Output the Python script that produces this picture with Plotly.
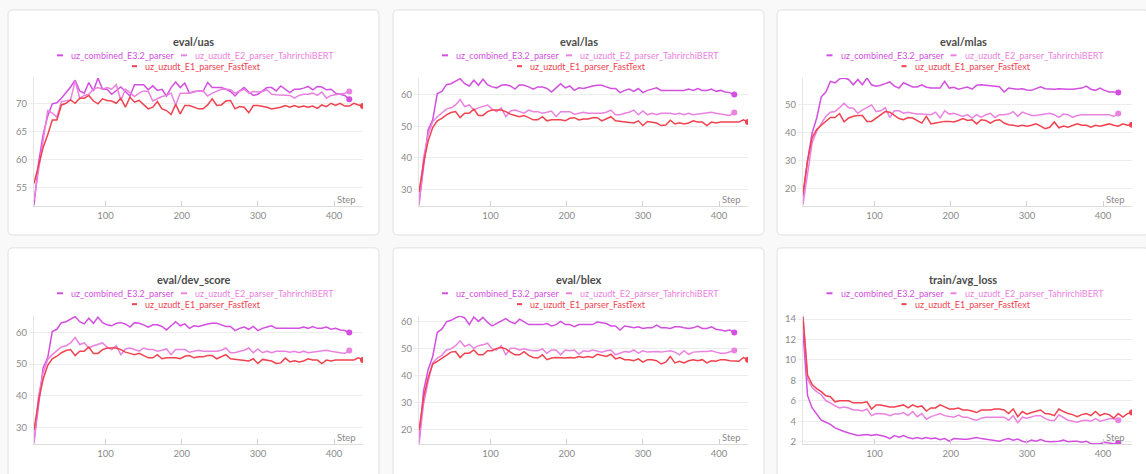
import plotly.graph_objects as go

W, H = 1146, 474

# ---------------- data ----------------
steps_e3 = list(range(6, 421, 6))   # uz_combined_E3.2_parser
steps_e2 = list(range(6, 421, 6))   # uz_uzudt_E2_parser_TahrirchiBERT
steps_e1 = list(range(6, 439, 6))   # uz_uzudt_E1_parser_FastText

uas_e3 = [51.9, 59.5, 64.5, 67.8, 70.0, 70.2, 71.0, 71.9, 73.0, 74.2,
          72.3, 71.9, 73.8, 72.3, 74.6, 72.6, 72.6, 71.7, 72.4, 73.0,
          72.2, 71.4, 73.4, 73.4, 73.4, 72.5, 73.2, 72.4, 72.6, 71.4,
          72.9, 73.9, 72.9, 73.7, 71.9, 72.2, 72.3, 72.2, 73.8, 72.9,
          72.9, 72.9, 72.6, 72.2, 71.4, 72.3, 72.9, 72.1, 71.5, 71.7,
          72.3, 72.9, 72.9, 72.3, 73.2, 72.6, 72.0, 72.6, 72.6, 72.8,
          73.1, 72.5, 73.1, 73.0, 72.5, 72.6, 71.9, 71.7, 71.5, 70.8]
uas_e2 = [52.8, 58.0, 64.0, 68.8, 68.4, 67.6, 70.4, 70.5, 70.7, 74.1,
          71.0, 71.5, 71.7, 72.6, 72.9, 72.6, 72.9, 72.6, 73.4, 70.6,
          72.6, 72.0, 71.3, 71.9, 72.3, 72.2, 70.5, 70.9, 71.3, 71.5,
          71.9, 69.8, 71.9, 71.9, 71.9, 72.1, 72.3, 72.3, 71.4, 71.9,
          72.3, 72.6, 72.6, 72.5, 71.9, 72.3, 72.6, 71.9, 72.2, 72.1,
          72.2, 72.5, 71.7, 71.6, 71.6, 71.5, 71.5, 71.0, 71.5, 71.7,
          71.7, 71.9, 71.5, 72.1, 71.0, 71.5, 71.6, 71.7, 71.9, 72.2]
uas_e1 = [55.8, 58.9, 62.2, 64.5, 67.1, 67.1, 69.8, 70.1, 70.7, 70.1,
          71.0, 71.0, 71.5, 70.5, 70.0, 70.9, 70.6, 70.5, 70.1, 71.0,
          69.4, 71.2, 70.3, 70.6, 69.8, 69.1, 69.4, 70.4, 69.1, 68.8,
          68.1, 69.9, 68.2, 69.7, 69.7, 69.4, 69.1, 69.1, 69.8, 70.9,
          69.7, 69.8, 70.5, 70.6, 69.1, 69.5, 69.4, 68.4, 69.7, 69.7,
          69.6, 69.4, 69.1, 69.2, 69.4, 69.7, 69.4, 69.7, 69.4, 69.6,
          69.4, 69.6, 69.2, 69.8, 69.5, 70.1, 69.7, 70.1, 69.6, 69.6,
          70.1, 69.8, 69.6]

las_e3 = [25.5, 38.0, 48.9, 52.0, 60.3, 61.0, 63.1, 63.4, 64.2, 65.0,
          63.4, 62.7, 64.5, 62.9, 64.8, 63.1, 62.4, 62.1, 62.9, 63.1,
          62.7, 61.7, 63.1, 62.9, 62.4, 61.7, 62.4, 62.4, 61.9, 60.8,
          62.1, 63.4, 62.1, 62.7, 61.3, 62.1, 61.9, 62.4, 62.7, 62.9,
          62.9, 62.4, 61.9, 61.9, 60.6, 61.3, 61.7, 61.0, 61.9, 60.6,
          61.3, 61.7, 62.1, 61.3, 61.3, 61.3, 61.3, 61.3, 61.3, 61.7,
          61.3, 61.9, 61.3, 61.3, 61.7, 61.0, 61.3, 60.8, 60.6, 60.0]
las_e2 = [25.0, 40.0, 47.3, 51.5, 53.0, 54.1, 55.4, 55.8, 56.7, 58.4,
          56.2, 56.7, 55.1, 55.8, 56.2, 56.7, 55.4, 54.6, 55.8, 53.0,
          54.8, 55.1, 54.6, 54.1, 55.1, 54.6, 54.6, 54.1, 54.4, 54.8,
          53.0, 54.6, 54.6, 54.6, 53.8, 54.1, 54.4, 54.1, 54.1, 54.1,
          54.1, 54.4, 55.1, 53.6, 53.6, 54.1, 54.4, 55.1, 53.6, 54.8,
          53.6, 54.1, 53.6, 54.1, 54.1, 54.1, 53.8, 54.1, 53.6, 54.1,
          53.6, 53.8, 54.1, 54.4, 54.4, 54.1, 53.8, 53.6, 53.4, 54.3]
las_e1 = [29.2, 38.5, 45.3, 49.6, 51.7, 52.5, 53.6, 54.3, 54.6, 52.7,
          54.1, 54.1, 55.4, 53.4, 53.4, 54.6, 55.1, 55.1, 55.1, 54.6,
          53.8, 53.4, 53.0, 53.4, 52.7, 52.0, 52.0, 53.0, 51.7, 52.0,
          52.0, 52.0, 51.7, 52.5, 52.7, 52.0, 52.3, 52.3, 52.7, 52.7,
          51.7, 52.3, 53.0, 51.7, 51.5, 51.3, 51.3, 51.0, 51.7, 50.2,
          51.5, 51.3, 51.0, 50.2, 50.4, 51.9, 50.7, 51.1, 50.7, 51.0,
          51.7, 51.3, 51.3, 50.2, 51.3, 51.0, 51.3, 51.3, 51.3, 51.3,
          51.3, 52.0, 51.3]

mlas_e3 = [17.0, 29.9, 39.8, 45.1, 52.7, 54.4, 58.2, 57.7, 59.1, 59.4,
           58.9, 57.0, 58.9, 57.0, 59.4, 57.0, 56.5, 56.8, 57.4, 58.0,
           56.5, 55.8, 57.7, 56.8, 56.2, 56.2, 57.0, 56.1, 55.8, 55.8,
           55.8, 58.2, 55.8, 56.1, 55.4, 55.8, 56.2, 55.4, 56.8, 57.0,
           56.8, 56.5, 56.5, 56.3, 54.4, 55.8, 55.6, 55.4, 55.6, 55.1,
           55.0, 55.8, 56.3, 55.6, 55.4, 55.4, 55.6, 55.4, 55.4, 55.4,
           55.6, 55.8, 56.5, 55.4, 55.0, 55.8, 55.0, 54.4, 54.4, 54.2]
mlas_e2 = [14.1, 25.2, 36.3, 40.4, 43.3, 45.7, 47.2, 47.4, 48.8, 50.4,
           48.8, 48.6, 46.8, 48.0, 48.8, 49.8, 47.4, 47.7, 48.8, 45.3,
           47.7, 47.7, 46.8, 47.2, 46.8, 46.5, 46.5, 46.5, 46.3, 47.2,
           45.1, 47.7, 46.5, 46.8, 46.3, 45.7, 46.3, 45.1, 46.3, 45.3,
           46.3, 46.8, 45.3, 46.3, 46.3, 46.5, 47.4, 45.7, 47.2, 46.5,
           46.0, 46.0, 46.3, 46.5, 46.8, 46.3, 45.3, 46.5, 46.3, 45.3,
           46.0, 46.3, 46.3, 46.3, 46.5, 46.3, 46.3, 46.3, 45.7, 46.7]
mlas_e1 = [18.2, 29.9, 38.1, 41.0, 42.5, 43.9, 45.3, 45.3, 46.7, 43.7,
           45.1, 45.7, 46.0, 46.0, 43.9, 43.9, 45.1, 46.3, 47.4, 47.2,
           46.0, 44.9, 44.5, 45.3, 45.1, 44.2, 43.3, 45.7, 43.0, 43.3,
           43.7, 43.9, 43.9, 43.7, 44.2, 44.9, 44.2, 44.5, 43.0, 44.5,
           44.2, 43.3, 44.2, 44.5, 43.3, 42.7, 42.5, 42.2, 42.5, 42.2,
           42.5, 43.0, 42.2, 41.3, 41.8, 43.7, 41.6, 42.2, 41.8, 42.5,
           43.0, 42.5, 42.5, 41.8, 42.5, 42.2, 42.5, 43.0, 42.5, 42.2,
           43.0, 42.5, 42.7]

# dev_score is logged as LAS, the curves are identical
dev_e3 = list(las_e3)
dev_e2 = list(las_e2)
dev_e1 = list(las_e1)

blex_e3 = [14.9, 34.4, 42.3, 47.2, 56.1, 57.3, 60.0, 60.6, 61.5, 62.2,
           61.5, 59.0, 61.8, 60.2, 61.7, 59.8, 58.5, 59.4, 60.2, 61.2,
           60.0, 59.4, 61.0, 60.0, 59.0, 59.0, 59.0, 59.0, 59.4, 58.5,
           59.0, 60.2, 59.0, 59.0, 58.2, 59.0, 59.0, 59.0, 59.0, 60.0,
           59.8, 59.4, 58.5, 58.5, 57.0, 58.5, 58.2, 57.8, 58.2, 57.6,
           57.8, 57.8, 58.8, 57.8, 57.8, 57.6, 58.2, 58.2, 57.8, 57.6,
           57.8, 58.5, 57.6, 57.6, 58.2, 57.3, 57.0, 56.6, 57.0, 56.1]
blex_e2 = [14.9, 29.5, 38.0, 44.8, 46.6, 47.6, 49.6, 50.0, 51.2, 53.0,
           50.9, 51.7, 50.2, 51.2, 51.5, 52.1, 50.0, 49.6, 51.2, 47.8,
           50.2, 50.2, 49.6, 50.0, 49.6, 49.3, 49.3, 50.0, 48.4, 49.6,
           49.6, 47.8, 49.6, 49.3, 49.6, 48.0, 49.3, 49.0, 49.6, 49.3,
           48.8, 49.3, 49.6, 47.8, 48.4, 49.0, 48.8, 49.6, 48.4, 49.3,
           48.8, 49.0, 49.0, 48.8, 49.0, 49.3, 48.8, 47.8, 49.3, 48.0,
           48.8, 49.0, 49.0, 49.0, 49.3, 48.8, 48.4, 48.4, 49.0, 49.4]
blex_e1 = [19.8, 32.0, 39.3, 44.4, 45.4, 46.6, 47.8, 48.8, 49.0, 46.8,
           48.4, 48.4, 49.6, 47.8, 47.8, 49.3, 49.3, 50.2, 50.5, 50.0,
           48.8, 47.8, 47.8, 49.0, 47.6, 46.8, 46.6, 47.8, 46.0, 46.6,
           46.8, 46.6, 46.6, 46.8, 46.6, 47.2, 46.8, 47.2, 46.8, 48.0,
           47.6, 47.2, 48.0, 46.3, 46.8, 46.0, 46.0, 45.6, 46.3, 45.1,
           46.0, 46.0, 45.6, 44.4, 45.1, 47.2, 44.8, 45.4, 44.8, 45.6,
           46.0, 45.6, 46.0, 44.8, 45.6, 45.4, 46.0, 46.0, 45.6, 45.6,
           45.4, 46.8, 46.0]

loss_e3 = [12.7, 6.5, 5.3, 4.7, 4.1, 3.9, 3.7, 3.35, 3.15, 3.0,
           2.85, 2.7, 2.6, 2.65, 2.7, 2.6, 2.7, 2.6, 2.5, 2.3,
           2.6, 2.45, 2.6, 2.4, 2.3, 2.4, 2.3, 2.4, 2.3, 2.35,
           2.2, 2.3, 2.05, 2.3, 2.25, 2.25, 2.25, 2.3, 2.4, 2.3,
           2.25, 2.2, 2.15, 2.05, 2.2, 2.3, 2.15, 2.25, 2.05, 1.95,
           2.15, 2.05, 2.2, 2.05, 2.0, 2.0, 2.05, 2.15, 2.0, 2.05,
           2.05, 1.95, 2.05, 1.8, 1.8, 1.8, 1.95, 1.85, 1.8, 1.87]
loss_e2 = [14.3, 8.1, 7.3, 6.9, 6.6, 6.0, 5.8, 5.5, 5.3, 5.4,
           5.3, 5.1, 5.1, 5.0, 5.2, 4.55, 4.75, 4.7, 4.7, 4.55,
           4.7, 4.7, 4.85, 4.55, 4.95, 4.45, 4.75, 4.2, 4.45, 4.6,
           4.75, 4.55, 4.45, 4.4, 4.6, 4.4, 4.4, 4.2, 4.1, 4.3,
           4.4, 4.4, 4.4, 4.4, 4.4, 4.1, 4.55, 3.86, 4.4, 4.3,
           4.45, 4.55, 4.55, 4.25, 4.1, 4.05, 4.63, 4.4, 4.1, 4.0,
           3.9, 4.05, 4.1, 4.0, 4.25, 4.0, 4.1, 4.25, 4.25, 4.1]
loss_e1 = [14.2, 8.5, 7.6, 7.2, 6.9, 6.5, 6.4, 5.9, 6.0, 6.0,
           6.0, 5.8, 5.8, 5.8, 5.9, 5.2, 5.6, 5.6, 5.5, 5.4,
           5.4, 5.5, 5.6, 5.3, 5.6, 5.4, 5.5, 5.0, 5.3, 5.3,
           5.6, 5.4, 5.2, 5.2, 5.3, 5.1, 5.1, 5.0, 4.85, 5.1,
           5.1, 5.1, 5.2, 5.2, 5.1, 4.75, 5.2, 4.45, 4.95, 4.7,
           4.85, 5.0, 5.1, 4.75, 4.7, 4.55, 5.2, 4.95, 4.75, 4.65,
           4.45, 4.65, 4.75, 4.55, 4.95, 4.55, 4.75, 4.65, 4.3, 4.75,
           4.4, 4.75, 4.85]

run_names = ["uz_combined_E3.2_parser", "uz_uzudt_E2_parser_TahrirchiBERT",
             "uz_uzudt_E1_parser_FastText"]
run_colors = ["#d34fe0", "#ea82e0", "#f0424f"]
run_steps = [steps_e3, steps_e2, steps_e1]

panel_titles = ["eval/uas", "eval/las", "eval/mlas",
                "eval/dev_score", "eval/blex", "train/avg_loss"]
panel_series = [[uas_e3, uas_e2, uas_e1], [las_e3, las_e2, las_e1],
                [mlas_e3, mlas_e2, mlas_e1], [dev_e3, dev_e2, dev_e1],
                [blex_e3, blex_e2, blex_e1], [loss_e3, loss_e2, loss_e1]]
panel_yrange = [[51.7, 74.6], [24.7, 65.2], [13.5, 59.4],
                [24.7, 65.2], [14.6, 62.2], [1.74, 14.3]]
panel_yticks = [[55, 60, 65, 70], [30, 40, 50, 60], [20, 30, 40, 50],
                [30, 40, 50, 60], [20, 30, 40, 50, 60], [2, 4, 6, 8, 10, 12, 14]]
x_ticks = [100, 200, 300, 400]

# ---------------- geometry (pixels) ----------------
col_plot_x = [(34, 363), (419, 748), (803, 1132)]
col_card_x = [(8, 379), (393, 764), (777, 1149)]
row_plot_y = [(76, 206), (317, 447)]
row_card_y = [(7, 235), (248, 490)]
row_off = [0, 241]

FONT = "Lato, Open Sans, sans-serif"
TXT_GRAY = "#8a8a8a"
GRID = "#ededed"


def px(x):
    return x / W


def py(y):
    return 1 - y / H


def rounded_rect(x0, y0, x1, y1, r=5):
    rx, ry = r / W, r / H
    X0, X1 = px(x0), px(x1)
    Y0, Y1 = py(y0), py(y1)  # Y0 top (larger)
    return (f"M {X0+rx},{Y0} L {X1-rx},{Y0} Q {X1},{Y0} {X1},{Y0-ry} "
            f"L {X1},{Y1+ry} Q {X1},{Y1} {X1-rx},{Y1} L {X0+rx},{Y1} "
            f"Q {X0},{Y1} {X0},{Y1+ry} L {X0},{Y0-ry} Q {X0},{Y0} {X0+rx},{Y0} Z")


fig = go.Figure()
shapes = []
annotations = []
layout_axes = {}

for i in range(6):
    r, c = divmod(i, 3)
    k = i + 1
    xa = "x" if k == 1 else f"x{k}"
    ya = "y" if k == 1 else f"y{k}"
    xname = "xaxis" if k == 1 else f"xaxis{k}"
    yname = "yaxis" if k == 1 else f"yaxis{k}"
    off = row_off[r]

    # card
    cx0, cx1 = col_card_x[c]
    cy0, cy1 = row_card_y[r]
    shapes.append(dict(type="path", path=rounded_rect(cx0, cy0, cx1, cy1),
                       xref="paper", yref="paper", layer="below",
                       fillcolor="white", line=dict(color="#e0e0e0", width=1)))
    ccx = (cx0 + cx1) / 2

    for s, (vals, name, color, steps) in enumerate(
            zip(panel_series[i], run_names, run_colors, run_steps)):
        fig.add_trace(go.Scatter(x=steps, y=vals, xaxis=xa, yaxis=ya, mode="lines",
                                 line=dict(color=color, width=1.5), name=name,
                                 showlegend=False, hoverinfo="skip"))
        fig.add_trace(go.Scatter(x=[steps[-1]], y=[vals[-1]], xaxis=xa, yaxis=ya,
                                 mode="markers", marker=dict(color=color, size=6),
                                 showlegend=False, hoverinfo="skip"))

    x0, x1 = col_plot_x[c]
    y0, y1 = row_plot_y[r]
    layout_axes[xname] = dict(domain=[px(x0), px(x1)], anchor=ya, range=[6, 438],
                              tickvals=x_ticks, showgrid=False, zeroline=False,
                              showline=True, linecolor="#dcdcdc", linewidth=1,
                              ticks="inside", ticklen=5, tickcolor="#cfcfcf",
                              tickfont=dict(size=9.5, color=TXT_GRAY, family=FONT))
    layout_axes[yname] = dict(domain=[py(y1), py(y0)], anchor=xa,
                              range=panel_yrange[i], tickvals=panel_yticks[i],
                              showgrid=True, gridcolor=GRID, gridwidth=1,
                              zeroline=False, showline=True, linecolor="#e4e4e4",
                              ticks="outside", ticklen=4, tickcolor=GRID,
                              tickfont=dict(size=9.5, color=TXT_GRAY, family=FONT))

    # title
    annotations.append(dict(text=f"<b>{panel_titles[i]}</b>", x=px(ccx), y=py(39 + off),
                            xref="paper", yref="paper", showarrow=False,
                            xanchor="center", yanchor="middle",
                            font=dict(size=11, color="#4a4a4a", family=FONT)))
    # legend (drawn manually, two rows)
    leg_items = [(-136.5, -130.5, -124.5, 53), (-12.5, -6.5, -0.5, 53), (-61.5, -56.5, -50.5, 64)]
    for (d0, d1, t0, ly), name, color in zip(leg_items, run_names, run_colors):
        shapes.append(dict(type="line", xref="paper", yref="paper",
                           x0=px(ccx + d0), x1=px(ccx + d1),
                           y0=py(ly + off), y1=py(ly + off),
                           line=dict(color=color, width=2)))
        annotations.append(dict(text=name, x=px(ccx + t0), y=py(ly + off),
                                xref="paper", yref="paper", showarrow=False,
                                xanchor="left", yanchor="middle",
                                font=dict(size=9, color=color, family=FONT)))
    # "Step" label
    annotations.append(dict(text="Step", x=px(x1 - 5), y=py(y1 - 7),
                            xref="paper", yref="paper", showarrow=False,
                            xanchor="right", yanchor="middle",
                            font=dict(size=9.5, color=TXT_GRAY, family=FONT)))

fig.update_layout(width=W, height=H, margin=dict(l=0, r=0, t=0, b=0),
                  paper_bgcolor="#f9f9f9", plot_bgcolor="rgba(0,0,0,0)",
                  shapes=shapes, annotations=annotations, showlegend=False,
                  font=dict(family=FONT), **layout_axes)

fig.write_html("out.html", config={"displayModeBar": False},
               post_script="document.body.style.margin='0';document.body.style.overflow='hidden';")
